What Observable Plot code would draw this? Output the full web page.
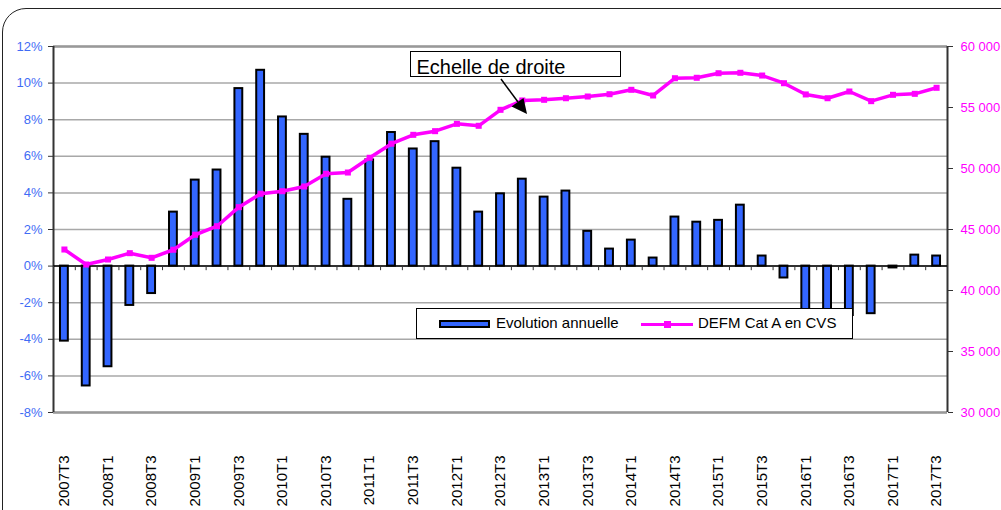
<!DOCTYPE html>
<html><head><meta charset="utf-8">
<script src="https://cdn.jsdelivr.net/npm/d3@7"></script>
<script src="https://cdn.jsdelivr.net/npm/@observablehq/plot@0.6"></script>
<style>
body{margin:0;background:#fff;font-family:"Liberation Sans",Arial,sans-serif;}
#wrap{position:relative;width:1001px;height:510px;overflow:hidden;}
#wrap svg.plot{position:absolute;left:0;top:0;}
#frame{position:absolute;left:2px;top:8px;width:1030px;height:560px;border:1.5px solid #222;border-radius:24px;box-sizing:border-box;pointer-events:none;}
#legend{position:absolute;left:416px;top:308px;width:437px;height:31px;background:#fff;border:1px solid #000;box-sizing:border-box;font-size:15px;color:#000;}
#legend .sw{position:absolute;left:22px;top:11px;width:51px;height:8px;background:#3366ff;border:2px solid #000;box-sizing:border-box;}
#legend .t{position:absolute;top:5px;line-height:17px;white-space:nowrap;}
#legend .ln{position:absolute;left:224px;top:13.5px;width:52px;height:3.5px;background:#ff00ff;}
#legend .mk{position:absolute;left:246.5px;top:11.5px;width:7px;height:7px;background:#ff00ff;}
#note{position:absolute;left:410px;top:51px;width:211px;height:26px;border:1.5px solid #000;box-sizing:border-box;background:#fff;font-size:20px;}
#note span{position:absolute;left:5.5px;top:4px;line-height:23px;white-space:nowrap;}
#arrow{position:absolute;left:0;top:0;pointer-events:none;}
</style>
</head><body>
<div id="wrap"></div>
<script>
const quarters = ["2007T3","2007T4","2008T1","2008T2","2008T3","2008T4","2009T1","2009T2","2009T3","2009T4",
  "2010T1","2010T2","2010T3","2010T4","2011T1","2011T2","2011T3","2011T4","2012T1","2012T2",
  "2012T3","2012T4","2013T1","2013T2","2013T3","2013T4","2014T1","2014T2","2014T3","2014T4",
  "2015T1","2015T2","2015T3","2015T4","2016T1","2016T2","2016T3","2016T4","2017T1","2017T2","2017T3"];
const evolution = [-4.1,-6.55,-5.5,-2.15,-1.5,2.95,4.7,5.25,9.7,10.7,
  8.15,7.2,5.95,3.65,5.8,7.3,6.4,6.8,5.35,2.95,
  3.95,4.75,3.77,4.1,1.9,0.93,1.42,0.44,2.68,2.4,
  2.5,3.33,0.55,-0.65,-2.9,-3.1,-2.7,-2.6,-0.1,0.6,0.55];
const defm = [43360,42130,42540,43060,42680,43340,44570,45270,46830,47930,
  48140,48525,49570,49670,50880,52030,52760,53060,53660,53500,
  54810,55575,55630,55760,55900,56090,56450,55985,57400,57435,
  57810,57845,57620,56990,56070,55760,56310,55520,56040,56120,56615];
const leftDomain = [-8, 12];
const rightDomain = [30000, 60000];
const leftTicks = [-8,-6,-4,-2,0,2,4,6,8,10,12];
const rightTicks = [30000,35000,40000,45000,50000,55000,60000];
const xTickLabels = quarters.filter((d, i) => i % 2 === 0);
const seriesNames = ["Evolution annuelle", "DEFM Cat A en CVS"];
const noteText = "Echelle de droite";

const toLeft = d3.scaleLinear(rightDomain, leftDomain);
const fmt = d3.formatLocale({thousands: " ", grouping: [3], decimal: ","}).format(",");
const data = quarters.map((q, i) => ({q, evo: evolution[i], defm: defm[i]}));
const first = quarters[0], last = quarters[quarters.length - 1];

const chart = Plot.plot({
  width: 1001, height: 510,
  marginTop: 46, marginBottom: 98, marginLeft: 53, marginRight: 54,
  style: {fontFamily: "Liberation Sans, Arial, sans-serif", background: "transparent", overflow: "visible"},
  x: {type: "band", domain: quarters, paddingInner: 0.64, paddingOuter: 0.32, axis: null},
  y: {domain: leftDomain, axis: null},
  marks: [
    Plot.gridY(leftTicks, {stroke: "#a8a8a8", strokeOpacity: 1, strokeWidth: 1.5}),
    Plot.gridY([leftDomain[0], leftDomain[1]], {stroke: "#999", strokeOpacity: 1, strokeWidth: 2.5}),
    Plot.axisY(leftTicks, {tickFormat: d => d + "%", fill: "#3f6cf5", fontSize: 13, tickSize: 5, tickPadding: 6, stroke: "#333", label: null}),
    Plot.axisY(rightTicks.map(toLeft), {anchor: "right", tickFormat: v => fmt(Math.round(toLeft.invert(v))), fill: "#ff00ff", fontSize: 13, tickSize: 5, tickPadding: 8, stroke: "#333", label: null}),
    Plot.axisX(xTickLabels, {tickRotate: -90, tickSize: 0, tickPadding: 43, fontSize: 15, fill: "#000", label: null}),
    Plot.ruleX([first], {y1: leftDomain[0], y2: leftDomain[1], dx: -10.9, stroke: "#333", strokeWidth: 2}),
    Plot.ruleX([last], {y1: leftDomain[0], y2: leftDomain[1], dx: 10.9, stroke: "#333", strokeWidth: 2}),
    Plot.barY(data, {x: "q", y: "evo", fill: "#3366ff", stroke: "#000", strokeWidth: 2}),
    Plot.ruleY([0], {stroke: "#000", strokeWidth: 1.5}),
    Plot.ruleX(quarters, {x: d => d, y1: 0, y2: -0.25, dx: -10.9, stroke: "#333", strokeWidth: 1}),
    Plot.lineY(data, {x: "q", y: d => toLeft(d.defm), stroke: "#ff00ff", strokeWidth: 3.5}),
    Plot.dot(data, {x: "q", y: d => toLeft(d.defm), symbol: "square", r: 3.4, fill: "#ff00ff", stroke: null})
  ]
});
chart.classList.add("plot");
const wrap = document.getElementById("wrap");
wrap.appendChild(chart);

const frame = document.createElement("div"); frame.id = "frame"; wrap.appendChild(frame);

const legend = document.createElement("div"); legend.id = "legend";
legend.innerHTML = `<div class="sw"></div><span class="t" style="left:79px">${seriesNames[0]}</span>
<div class="ln"></div><div class="mk"></div><span class="t" style="left:281px">${seriesNames[1]}</span>`;
wrap.appendChild(legend);

const note = document.createElement("div"); note.id = "note";
note.innerHTML = `<span>${noteText}</span>`;
wrap.appendChild(note);

const ns = "http://www.w3.org/2000/svg";
const arrow = document.createElementNS(ns, "svg");
arrow.setAttribute("id", "arrow"); arrow.setAttribute("width", 1001); arrow.setAttribute("height", 510);
arrow.innerHTML = `<line x1="501" y1="79" x2="518" y2="102" stroke="#000" stroke-width="1.5"/>
<polygon points="527,114 511.5,106.5 523.5,98" fill="#000"/>`;
wrap.appendChild(arrow);
</script>
</body></html>
